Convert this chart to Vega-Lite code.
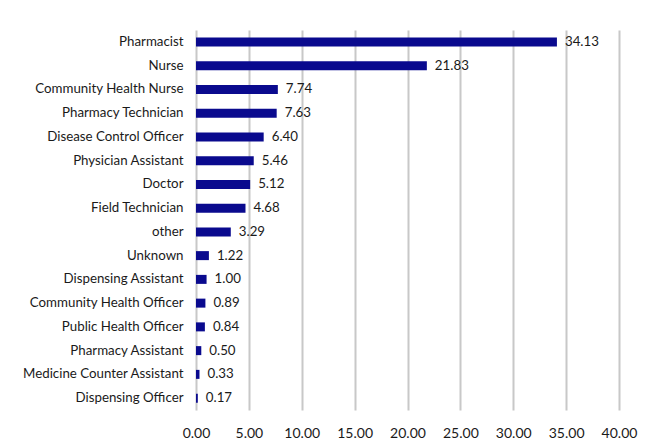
{
  "$schema": "https://vega.github.io/schema/vega-lite/v6.json",
  "autosize": {"type": "none"},
  "padding": {"left": 196, "top": 30, "right": 31, "bottom": 35},
  "width": 423,
  "height": 380,
  "background": "white",
  "data": {"values": [
    {"role": "Pharmacist", "value": 34.13},
    {"role": "Nurse", "value": 21.83},
    {"role": "Community Health Nurse", "value": 7.74},
    {"role": "Pharmacy Technician", "value": 7.63},
    {"role": "Disease Control Officer", "value": 6.40},
    {"role": "Physician Assistant", "value": 5.46},
    {"role": "Doctor", "value": 5.12},
    {"role": "Field Technician", "value": 4.68},
    {"role": "other", "value": 3.29},
    {"role": "Unknown", "value": 1.22},
    {"role": "Dispensing Assistant", "value": 1.00},
    {"role": "Community Health Officer", "value": 0.89},
    {"role": "Public Health Officer", "value": 0.84},
    {"role": "Pharmacy Assistant", "value": 0.50},
    {"role": "Medicine Counter Assistant", "value": 0.33},
    {"role": "Dispensing Officer", "value": 0.17}
  ]},
  "encoding": {
    "y": {"field": "role", "type": "nominal", "sort": null, "title": null,
      "axis": {"domain": false, "ticks": false, "labelPadding": 13, "labelFont": "Lato", "labelFontSize": 13.3, "labelColor": "#1a1a1a", "grid": false, "labelLimit": 250}},
    "x": {"field": "value", "type": "quantitative", "title": null,
      "scale": {"domain": [0, 40], "nice": false},
      "axis": {"values": [0,5,10,15,20,25,30,35,40], "format": ".2f", "domain": false, "ticks": false,
        "grid": true, "gridColor": "#c8c8c8", "gridWidth": 2, "labelPadding": 16,
        "labelBound": false, "labelFlush": false, "labelOverlap": false,
        "labelFont": "Lato", "labelFontSize": 14, "labelColor": "#1a1a1a"}}
  },
  "layer": [
    {"mark": {"type": "bar", "color": "#0a0a8e", "size": 9}},
    {"mark": {"type": "text", "align": "left", "dx": 8, "font": "Lato", "fontSize": 13.3, "color": "#1a1a1a"},
     "encoding": {"text": {"field": "value", "type": "quantitative", "format": ".2f"}}}
  ],
  "config": {"view": {"stroke": null}}
}
